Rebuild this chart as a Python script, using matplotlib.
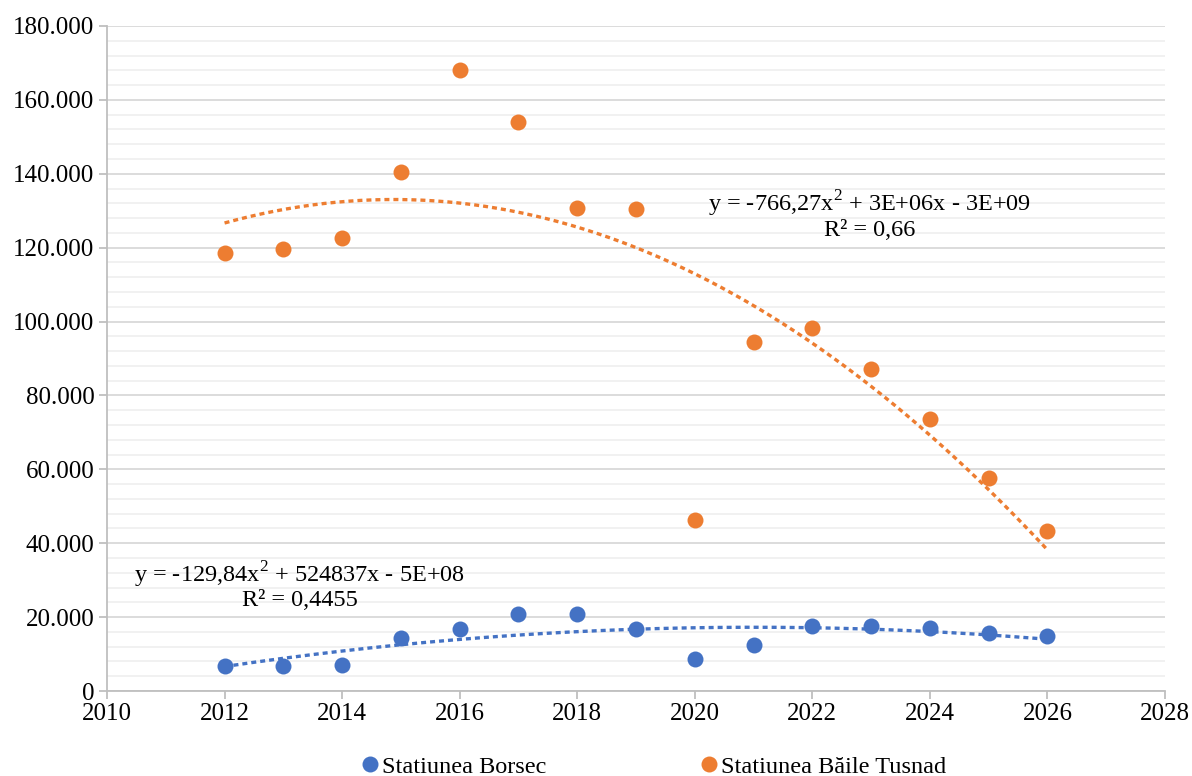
import numpy as np
import matplotlib
matplotlib.use("Agg")
import matplotlib.pyplot as plt
from matplotlib.ticker import FuncFormatter, MultipleLocator
from matplotlib.lines import Line2D

years = [2012, 2013, 2014, 2015, 2016, 2017, 2018, 2019, 2020, 2021, 2022, 2023, 2024, 2025, 2026]
borsec = [6800, 6800, 7000, 14300, 16800, 20800, 20800, 16800, 8700, 12500, 17600, 17600, 17100, 15700, 14900]
tusnad = [118600, 119600, 122600, 140500, 168100, 154000, 130700, 130500, 46300, 94500, 98300, 87200, 73600, 57700, 43300]
series_names = ["Statiunea Borsec", "Statiunea Băile Tusnad"]
eq_borsec = ["y = -129,84x$^{2}$ + 524837x - 5E+08", "R² = 0,4455"]
eq_tusnad = ["y = -766,27x$^{2}$ + 3E+06x - 3E+09", "R² = 0,66"]

blue = "#4472C4"
orange = "#ED7D31"

plt.rcParams['font.family'] = ['Liberation Serif', 'DejaVu Serif']
plt.rcParams['mathtext.fontset'] = 'custom'
plt.rcParams['mathtext.rm'] = 'Liberation Serif'

fig = plt.figure(figsize=(11.92, 7.76), dpi=100)
ax = fig.add_axes([107/1192, 1-691/776, (1165-107)/1192, (691-26)/776])

ax.set_xlim(2010, 2028)
ax.set_ylim(0, 180000)
ax.xaxis.set_major_locator(MultipleLocator(2))
ax.yaxis.set_major_locator(MultipleLocator(20000))
ax.yaxis.set_minor_locator(MultipleLocator(4000))
ax.yaxis.set_major_formatter(FuncFormatter(lambda v, p: f"{int(v):,}".replace(",", ".")))

ax.grid(axis='y', which='major', color='#d9d9d9', lw=1.3, zorder=0)
ax.grid(axis='y', which='minor', color='#f0f0f0', lw=1.3, zorder=0)
ax.set_axisbelow(True)
for s in ['top', 'right']:
    ax.spines[s].set_visible(False)
for s in ['left', 'bottom']:
    ax.spines[s].set_color('#bfbfbf')
    ax.spines[s].set_linewidth(1.3)
ax.tick_params(axis='both', which='major', length=6, color='#bfbfbf', width=1.3, labelsize=18, pad=3)
ax.tick_params(axis='y', which='minor', length=0)

xs = np.array(years, dtype=float)
xfit = np.linspace(years[0], years[-1], 200)
for ys, c in [(borsec, blue), (tusnad, orange)]:
    coef = np.polyfit(xs - 2000, np.array(ys, dtype=float), 2)
    ax.plot(xfit, np.polyval(coef, xfit - 2000), color=c, lw=2.4, linestyle=(0, (1.5, 1.2)),
            dash_capstyle='butt', zorder=2)
    ax.plot(years, ys, 'o', color=c, ms=11.5, zorder=3, markeredgewidth=0)

ax.text(2013.28, 28600, eq_borsec[0] + "\n" + eq_borsec[1], ha='center', va='center',
        fontsize=17.5, linespacing=1.05)
ax.text(2022.98, 128900, eq_tusnad[0] + "\n" + eq_tusnad[1], ha='center', va='center',
        fontsize=17.5, linespacing=1.05)

handles = [Line2D([], [], marker='o', ls='', color=blue, ms=11.5, markeredgewidth=0),
           Line2D([], [], marker='o', ls='', color=orange, ms=11.5, markeredgewidth=0)]
fig.legend(handles, series_names, loc='center', bbox_to_anchor=(0.547, 0.0116), ncol=2,
           frameon=False, fontsize=17.5, handletextpad=0.0, columnspacing=6.2, handlelength=1.0,
           borderpad=0)

fig.savefig("out.png", dpi=100)
